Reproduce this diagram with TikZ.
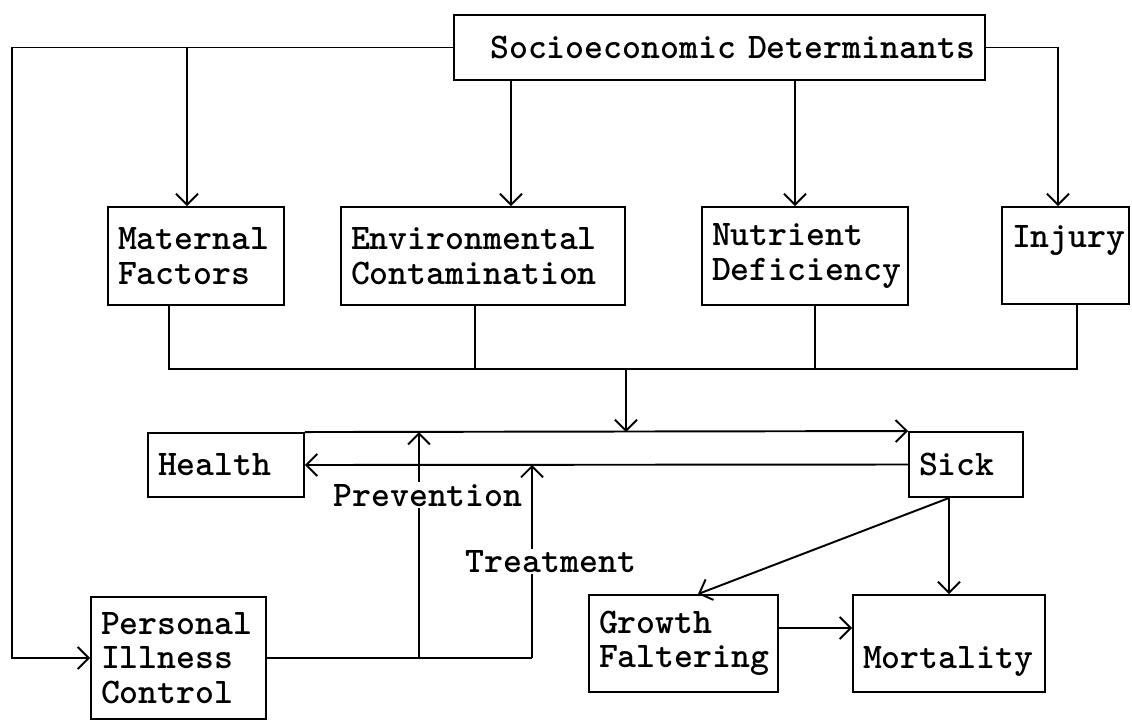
\documentclass[tikz,border=0pt]{standalone}
\usepackage{fontspec}
\usetikzlibrary{arrows.meta, calc, positioning}

\begin{document}
\begin{tikzpicture}[
    x=0.02cm, y=-0.02cm,
    font=\ttfamily\bfseries\fontsize{20.5}{19.6}\selectfont,
    box/.style={draw, line width=1.1pt, align=left, inner xsep=0.2cm, inner ysep=0pt},
    link/.style={line width=1.1pt},
    arr/.style={link, -{Straight Barb[length=0.22cm, width=0.44cm, line width=1.1pt]}},
    tag/.style={fill=white, inner sep=1pt}
]
\useasboundingbox (0,0) rectangle (1132,720);

% Boxes
\node[box, align=right, text width=10.22cm, minimum height=1.3cm] (socio) at (719.5,47.5) {Socioeconomic Determinants};

\node[box, text width=3.12cm, minimum height=1.96cm] (maternal) at (196,256) {Maternal\\Factors};
\node[box, text width=5.28cm, minimum height=1.96cm] (env) at (483,256) {Environmental\\Contamination};
\node[box, text width=3.72cm, minimum height=1.96cm] (nutrient) at (805,256) {Nutrient\\Deficiency};
\node[box, text width=2.14cm, minimum height=1.94cm, text height=0.5cm, text depth=0.84cm] (injury) at (1065.5,255.5) {Injury};

\node[box, text width=2.72cm, minimum height=1.28cm] (health) at (226,465) {Health};
\node[box, text width=1.88cm, minimum height=1.3cm] (sick) at (966,464.5) {Sick};

\node[box, text width=3.1cm, minimum height=2.44cm] (personal) at (178.5,658) {Personal\\Illness\\Control};
\node[box, text width=3.38cm, minimum height=1.94cm] (growth) at (683.5,643.5) {Growth\\Faltering};
\node[box, text width=3.44cm, minimum height=1.94cm, text height=1.2cm, text depth=0.2cm] (mortality) at (949,643.5) {Mortality};

% Determinanten nach unten
\coordinate (corner) at (12,47.5);
\draw[arr] (socio.west) -- (corner) |- (personal.west);
\draw[arr] ([xshift=-0.18cm]maternal.north |- socio.west) -- ([xshift=-0.18cm]maternal.north);
\draw[arr] ([xshift=0.56cm]env.north |- socio.south) -- ([xshift=0.56cm]env.north);
\draw[arr] ([xshift=-0.2cm]nutrient.north |- socio.south) -- ([xshift=-0.2cm]nutrient.north);
\draw[arr] (socio.east) -| ([xshift=-0.15cm]injury.north);

% Sammelleitung
\coordinate (join) at (626,369);
\draw[link] ([xshift=-0.54cm]maternal.south) |- ([xshift=0.23cm]injury.south |- join) -- ([xshift=0.23cm]injury.south);
\draw[link] ([xshift=-0.16cm]env.south) -- ([xshift=-0.16cm]env.south |- join);
\draw[link] ([xshift=0.2cm]nutrient.south) -- ([xshift=0.2cm]nutrient.south |- join);
\draw[arr] (join) -- (join |- health.north);

% Gesund / krank
\draw[arr] (health.north east) -- (sick.north west);
\draw[arr] (sick.west) -- (health.east);

% Vorbeugung und Behandlung
\coordinate (prevFoot) at (419,658);
\coordinate (treatFoot) at (532,658);
\draw[link] (personal.east) -- (treatFoot);
\draw[arr] (prevFoot) -- (prevFoot |- health.north) node[tag, pos=0.72, xshift=0.18cm] {Prevention};
\draw[arr] (treatFoot) -- (treatFoot |- health.east) node[tag, pos=0.5, xshift=0.38cm] {Treatment};

% Folgen
\coordinate (sickFoot) at (mortality.north |- sick.south);
\draw[arr] (sickFoot) -- ([xshift=0.29cm]growth.north);
\draw[arr] (sickFoot) -- (mortality.north);
\draw[arr] ([yshift=0.31cm]growth.east) -- ([yshift=0.31cm]growth.east -| mortality.west);

\end{tikzpicture}
\end{document}
